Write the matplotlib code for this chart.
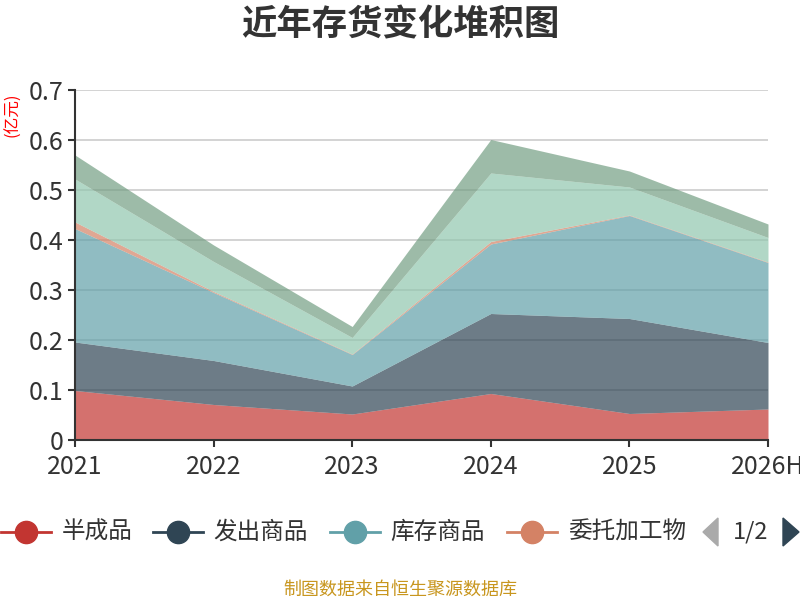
import matplotlib
matplotlib.use("Agg")
import matplotlib.pyplot as plt
from matplotlib.lines import Line2D
from matplotlib.patches import Polygon
import numpy as np

plt.rcParams["font.family"] = ["Noto Sans CJK SC", "DejaVu Sans"]

# data (亿元)
years = ["2021", "2022", "2023", "2024", "2025", "2026H"]
ban_cheng_pin = [0.099, 0.071, 0.052, 0.093, 0.053, 0.062]
fa_chu_shang_pin = [0.097, 0.088, 0.056, 0.160, 0.190, 0.133]
ku_cun_shang_pin = [0.227, 0.136, 0.063, 0.139, 0.206, 0.160]
wei_tuo_jia_gong = [0.013, 0.002, 0.001, 0.005, 0.001, 0.001]
yuan_cai_liao = [0.086, 0.060, 0.033, 0.137, 0.056, 0.049]
zhou_zhuan_cai_liao = [0.048, 0.033, 0.022, 0.067, 0.032, 0.027]

series = [
    ("半成品", ban_cheng_pin, "#c23531"),
    ("发出商品", fa_chu_shang_pin, "#2f4554"),
    ("库存商品", ku_cun_shang_pin, "#61a0a8"),
    ("委托加工物资", wei_tuo_jia_gong, "#d48265"),
    ("原材料", yuan_cai_liao, "#91c7ae"),
    ("周转材料", zhou_zhuan_cai_liao, "#749f83"),
]

fig = plt.figure(figsize=(8, 6), dpi=100)
ax = fig.add_axes([75 / 800, 160 / 600, 693 / 800, 350 / 600])

x = np.arange(len(years))
base = np.zeros(len(years))
for name, vals, color in series:
    top = base + np.array(vals)
    ax.fill_between(x, base, top, color=color, alpha=0.7, linewidth=0, zorder=2)
    base = top

ax.set_xlim(0, len(years) - 1)
ax.set_ylim(0, 0.7)
ax.set_yticks([0, 0.1, 0.2, 0.3, 0.4, 0.5, 0.6, 0.7])
ax.set_yticklabels(["0", "0.1", "0.2", "0.3", "0.4", "0.5", "0.6", "0.7"])
ax.set_xticks(x)
ax.set_xticklabels(years)
ax.set_axisbelow(True)
ax.grid(axis="y", color="#cccccc", linewidth=1.2)
for s in ["top", "right"]:
    ax.spines[s].set_visible(False)
for s in ["left", "bottom"]:
    ax.spines[s].set_color("#333333")
    ax.spines[s].set_linewidth(1.5)
    ax.spines[s].set_zorder(3)
ax.tick_params(axis="both", colors="#333333", labelsize=18, length=5, width=1.5)
ax.tick_params(axis="x", pad=5)
ax.tick_params(axis="y", pad=3)

fig.text(0.5, 0.958, "近年存货变化堆积图", ha="center", va="center",
         fontsize=25.5, fontweight="bold", color="#333333")
fig.text(13 / 800, 1 - 115 / 600, "(亿元)", rotation=90, ha="center", va="center",
         fontsize=12, color="red")

# legend (page 1 of 2)
leg_y = 1 - 532 / 600
items = [(26, 62), (178, 213), (355, 390), (532, 568)]
for (cx, tx), (name, vals, color) in zip(items, series[:4]):
    label = "委托加工物" if name.startswith("委托") else name
    fig.add_artist(Line2D([(cx - 25) / 800, (cx + 25) / 800], [leg_y, leg_y],
                          color=color, linewidth=2, transform=fig.transFigure))
    fig.add_artist(Line2D([cx / 800], [leg_y], marker="o", markersize=16,
                          color=color, linewidth=0, transform=fig.transFigure))
    fig.text(tx / 800, leg_y, label, ha="left", va="center", fontsize=17, color="#333333")

fig.add_artist(Polygon([[718 / 800, leg_y + 14 / 600], [718 / 800, leg_y - 14 / 600],
                        [703 / 800, leg_y]], closed=True, color="#aaaaaa",
                       transform=fig.transFigure))
fig.add_artist(Polygon([[783 / 800, leg_y + 14 / 600], [783 / 800, leg_y - 14 / 600],
                        [799 / 800, leg_y]], closed=True, color="#2f4554",
                       transform=fig.transFigure))
fig.text(751 / 800, leg_y, "1/2", ha="center", va="center", fontsize=17, color="#333333")

fig.text(0.5, 1 - 590 / 600, "制图数据来自恒生聚源数据库", ha="center", va="center",
         fontsize=13, color="#c8961e")

fig.savefig("out.png", dpi=100)
